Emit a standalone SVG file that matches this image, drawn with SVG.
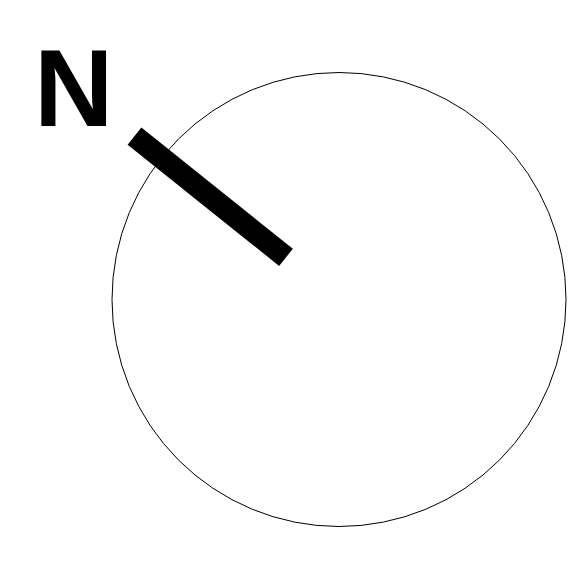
<svg xmlns="http://www.w3.org/2000/svg" width="580" height="586" viewBox="0 0 580 586">
<style>
.dial{fill:#fff;stroke:#000;stroke-width:1}
.needle{stroke:#000;stroke-width:22;stroke-linecap:butt}
.lbl{font-family:"Liberation Sans",Arial,sans-serif;font-weight:bold;font-size:110px;fill:#000}
</style>
<rect width="580" height="586" fill="#fff"/>
<g id="dial"><circle class="dial" cx="339" cy="299.5" r="227"/></g>
<g id="connectors"><line class="needle" x1="134.5" y1="136.2" x2="286" y2="257.3"/></g>
<g id="label"><text class="lbl" x="34" y="126">N</text></g>
</svg>
